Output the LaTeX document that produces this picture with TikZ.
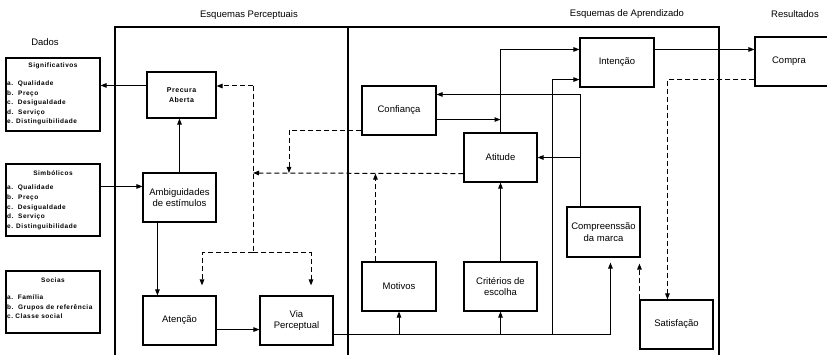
\documentclass[tikz,border=0pt]{standalone}
\usepackage{fontspec}
\setmainfont{Liberation Sans}
\newfontfamily\datafont[LetterSpace=8]{Liberation Sans}
\usetikzlibrary{arrows.meta,calc}
\begin{document}
\begin{tikzpicture}[x=1pt,y=-1pt,
  box/.style={draw,line width=1.1pt,inner sep=1pt,align=center,font=\fontsize{9.5}{11.5}\selectfont},
  dhead/.style={font=\datafont\bfseries\fontsize{6.5}{8}\selectfont,inner sep=0pt},
  dlist/.style={font=\datafont\bfseries\fontsize{6.5}{9.6}\selectfont,inner sep=0pt,align=left,anchor=north west},
  ttl/.style={font=\fontsize{9.5}{11}\selectfont,inner sep=0pt},
  ln/.style={line width=1pt},
  arr/.style={line width=1pt,-{Triangle[length=6pt,width=4.5pt]}},
  dln/.style={line width=1pt,dash pattern=on 5pt off 3pt},
  darr/.style={dln,-{Triangle[length=6pt,width=4.5pt]}}]
\useasboundingbox (0,0) rectangle (827,355);
\clip (0,0) rectangle (827,355);
\fill[white] (0,0) rectangle (827,355);

% titles
\node[ttl] (t1) at (249,15) {Esquemas Perceptuais};
\node[ttl] (t2) at (627,14) {Esquemas de Aprendizado};
\node[ttl] (t3) at (795,14) {Resultados};
\node[ttl] (t4) at (45,42) {Dados};

% frame
\draw[line width=1.1pt] (115,360) -- (115,27) -- (719,27) -- (719,360);
\draw[line width=1.1pt] (348,27) -- (348,360);

% data boxes
\node[box,minimum width=94,minimum height=73] (sig) at (53,94.5) {};
\node[dhead] (sigh) at (53,66) {Significativos};
\node[dlist] (sigl) at (7,80.5) {a.\ \ Qualidade\\b.\ \ Preço\\c.\ \ Desigualdade\\d.\ \ Serviço\\e. Distinguibilidade};

\node[box,minimum width=94,minimum height=72] (sim) at (53,200) {};
\node[dhead] (simh) at (53,173) {Simbólicos};
\node[dlist] (siml) at (7,185) {a.\ \ Qualidade\\b.\ \ Preço\\c.\ \ Desigualdade\\d.\ \ Serviço\\e. Distinguibilidade};

\node[box,minimum width=94,minimum height=62] (soc) at (53,302) {};
\node[dhead] (soch) at (53,280) {Socias};
\node[dlist] (socl) at (7,294.5) {a.\ \ Família\\b.\ \ Grupos de referência\\c.\ Classe social};

% perceptual boxes
\node[box,minimum width=69,minimum height=46,font=\datafont\bfseries\fontsize{7}{10}\selectfont] (precura) at (181.5,95) {Precura\\Aberta};
\node[box,minimum width=73,minimum height=49] (ambig) at (179.5,197.5) {Ambiguidades\\de estímulos};
\node[box,minimum width=73,minimum height=49] (atencao) at (179.5,320.5) {Atenção};
\node[box,minimum width=73,minimum height=49] (via) at (296.5,320.5) {Via\\Perceptual};

% learning boxes
\node[box,minimum width=74,minimum height=49] (confianca) at (399,110.5) {Confiança};
\node[box,minimum width=73,minimum height=49] (atitude) at (500.5,157.5) {Atitude};
\node[box,minimum width=74,minimum height=49] (motivos) at (399,286.5) {Motivos};
\node[box,minimum width=73,minimum height=49] (criterios) at (500.5,286.5) {Critérios de\\escolha};
\node[box,minimum width=74,minimum height=49] (intencao) at (617,62.5) {Intenção};
\node[box,minimum width=73,minimum height=50] (compreensao) at (603.5,232) {Compreenssão\\da marca};
\node[box,minimum width=73,minimum height=49] (satisfacao) at (676.5,324.5) {Satisfação};
\node[box,minimum width=80,minimum height=49] (compra) at (795,61.5) {\hspace*{-12pt}Compra};

% coordinates
\coordinate (pA) at ($(precura.north west)+(0,14)$);
\coordinate (sA) at ($(sim.north east)+(0,23)$);
\coordinate (aB) at ($(ambig.south west)+(15,0)$);
\coordinate (aV) at ($(atencao.south east)+(0,-16)$);
\coordinate (vR) at ($(via.south east)+(0,-11)$);
\coordinate (cB) at ($(compreensao.south west)+(44,0)$);
\coordinate (j1) at (552,334);
\coordinate (iL) at ($(intencao.south west)+(0,-8)$);
\coordinate (iT) at ($(intencao.north west)+(0,12)$);
\coordinate (cR) at ($(confianca.south east)+(0,-16)$);
\coordinate (cT) at ($(compreensao.north west)+(14,0)$);
\coordinate (cF) at ($(confianca.north east)+(0,9)$);
\coordinate (cpL) at ($(compra.south west)+(0,-7)$);
\coordinate (sT) at ($(satisfacao.north west)+(28,0)$);
\coordinate (dTop) at (253,86);
\coordinate (dMid) at (253,173);
\coordinate (dBot) at (253,253);
\coordinate (atL) at ($(atitude.south west)+(0,-9)$);
\coordinate (cfL) at ($(confianca.south west)+(0,-5)$);
\coordinate (e1) at (289,173);
\coordinate (mT) at ($(motivos.north west)+(14,0)$);

% solid connectors
\draw[arr] (pA) -- (pA -| sig.east);
\draw[arr] (sA) -- (sA -| ambig.west);
\draw[arr] (ambig.north) -- (ambig.north |- precura.south);
\draw[arr] (aB) -- (aB |- atencao.north);
\draw[arr] (aV) -- (aV -| via.west);
\draw[arr,shorten >=5pt] (vR) -| (cB);
\draw[arr] (vR -| motivos.south) -- (motivos.south);
\draw[arr] (vR -| criterios.south) -- (criterios.south);
\draw[arr] (j1) |- (iL);
\draw[arr] (criterios.north) -- (atitude.south);
\draw[arr] (atitude.north) |- (iT);
\draw[arr] (cR) -- (cR -| atitude.north);
\draw[arr] (cT) |- (cF);
\draw[arr] (cT |- atitude.east) -- (atitude.east);
\draw[arr] (iT -| intencao.east) -- (iT -| compra.west);

% dashed connectors
\draw[darr] (cpL) -| (sT);
\draw[darr,shorten >=6pt] (satisfacao.north west) -- (satisfacao.north west |- compreensao.south);
\draw[darr] (atL) -- (dMid);
\draw[dln] (dTop) -- (dBot);
\draw[darr] (dTop) -- (dTop -| precura.east);
\draw[darr] (dBot) -| ($(atencao.north)+(22.5,-10)$);
\draw[darr] (dBot) -| ($(via.north)+(14.5,-10)$);
\draw[darr] (cfL) -| (e1);
\draw[darr] (mT) -- (mT |- atL);
\end{tikzpicture}
\end{document}
